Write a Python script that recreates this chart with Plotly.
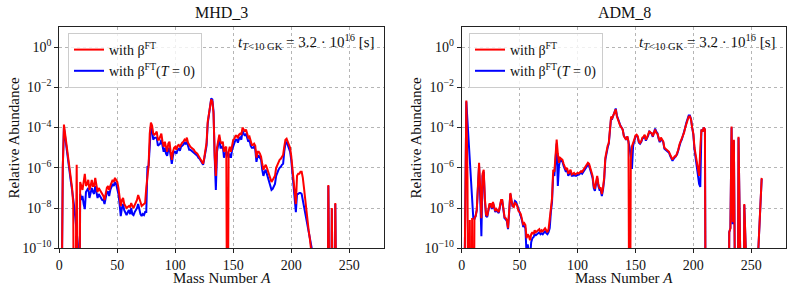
import plotly.graph_objects as go

# ---------------- data (log10 of relative abundance; -20 marks a zero abundance) ----------------
mhd_A = list(range(1, 221)) + list(range(230, 241))
mhd_red_log = [
    -20, -12, -6.0, -3.85, -4.3, -4.7, -5.2, -5.6, -6.0, -6.5,
    -7.0, -7.8, -20, -12, -5.85, -9.0, -20, -6.7, -6.9, -7.1,
    -6.7, -6.3, -6.9, -6.8, -6.6, -7.1, -6.9, -6.6, -6.9, -6.9,
    -6.5, -6.9, -7.2, -7.0, -7.1, -7.2, -7.3, -7.4, -7.6, -7.3,
    -7.0, -6.9, -7.1, -6.9, -6.7, -6.6, -6.7, -6.5, -6.6, -6.7,
    -7.0, -7.4, -7.9, -7.6, -7.5, -7.8, -7.9, -8.0, -7.95, -7.9,
    -7.95, -7.75, -7.9, -8.0, -7.85, -7.75, -7.6, -7.35, -7.6, -7.7,
    -7.9, -7.85, -7.8, -7.75, -7.0, -6.5, -5.9, -4.3, -3.75, -3.9,
    -4.3, -4.35, -4.3, -4.2, -4.6, -4.6, -4.45, -4.3, -4.7, -4.95,
    -4.7, -5.0, -5.2, -4.8, -4.7, -5.2, -5.6, -5.2, -5.0, -4.95,
    -5.1, -4.9, -4.86, -4.95, -4.8, -4.75, -4.7, -4.6, -4.65, -4.5,
    -4.75, -4.9, -4.95, -5.0, -5.05, -5.1, -5.2, -5.25, -5.3, -5.4,
    -5.5, -5.6, -5.7, -5.8, -5.5, -5.0, -4.75, -3.7, -3.3, -2.9,
    -2.6, -2.7, -3.3, -5.4, -6.4, -5.0, -4.6, -4.35, -4.7, -4.8,
    -4.7, -5.2, -5.0, -4.95, -20, -5.2, -4.95, -5.2, -4.9, -4.6,
    -4.55, -4.4, -4.4, -4.53, -4.35, -4.3, -4.36, -4.0, -4.1, -4.2,
    -4.1, -4.3, -4.5, -4.45, -4.7, -4.86, -4.86, -4.8, -4.9, -5.5,
    -5.2, -5.2, -5.3, -5.45, -5.8, -6.1, -5.95, -5.85, -6.0, -6.2,
    -6.4, -6.6, -6.7, -6.6, -6.5, -6.4, -6.0, -5.85, -5.75, -5.6,
    -5.55, -5.45, -5.36, -4.95, -4.6, -4.55, -4.7, -4.8, -5.0, -5.4,
    -6.0, -6.8, -7.3, -7.8, -6.4, -6.3, -6.3, -6.2, -6.2, -6.5,
    -7.0, -7.6, -8.1, -8.6, -9.1, -9.5, -10.0, -10.5, -20, -20,
    -20, -20, -6.85, -20, -20, -8.0, -20, -20, -7.75, -20, -20,
]
mhd_blue_log = [
    -20, -12, -6.0, -4.0, -4.5, -4.9, -5.4, -5.9, -6.3, -6.7,
    -7.1, -7.5, -8.0, -8.6, -9.2, -9.8, -20, -7.3, -7.6, -7.4,
    -7.8, -8.05, -7.2, -7.1, -7.0, -7.5, -7.3, -7.0, -7.2, -7.3,
    -6.9, -7.2, -7.5, -7.3, -7.4, -7.5, -7.6, -7.6, -7.8, -7.5,
    -7.2, -7.2, -7.4, -7.1, -6.9, -6.8, -6.9, -6.7, -6.8, -7.0,
    -7.3, -7.8, -8.4, -8.0, -7.8, -8.1, -8.2, -8.35, -8.2, -8.1,
    -8.3, -8.0, -8.3, -8.35, -8.2, -8.1, -8.0, -7.8, -8.1, -8.3,
    -8.4, -8.3, -8.35, -8.2, -8.2, -5.95, -5.9, -4.5, -3.95, -4.1,
    -4.6, -4.5, -4.5, -4.5, -4.9, -4.85, -4.8, -4.6, -5.0, -5.2,
    -5.0, -5.3, -5.4, -5.1, -5.0, -5.4, -5.8, -5.4, -5.2, -5.2,
    -5.3, -5.1, -5.05, -5.15, -4.95, -4.9, -4.85, -4.75, -4.8, -4.7,
    -4.95, -5.1, -5.1, -5.15, -5.2, -5.25, -5.3, -5.35, -5.4, -5.5,
    -5.55, -5.65, -5.75, -5.85, -5.55, -5.1, -4.9, -3.8, -3.3, -2.8,
    -2.55, -2.6, -3.2, -5.5, -7.1, -5.2, -4.8, -4.5, -5.0, -5.0,
    -4.9, -5.5, -5.3, -5.2, -5.3, -5.5, -5.3, -5.5, -5.1, -4.9,
    -4.75, -4.6, -4.6, -4.75, -4.55, -4.5, -4.6, -4.15, -4.3, -4.4,
    -4.3, -4.5, -4.7, -4.6, -4.9, -5.0, -5.0, -4.95, -5.1, -5.7,
    -5.4, -5.4, -5.5, -5.6, -6.1, -6.4, -6.2, -6.1, -6.3, -6.5,
    -6.8, -7.0, -7.1, -7.05, -6.95, -6.8, -6.4, -6.2, -6.1, -6.0,
    -5.95, -5.85, -5.8, -5.2, -4.8, -4.7, -4.85, -4.95, -5.2, -5.6,
    -6.3, -7.1, -7.9, -8.2, -7.3, -7.3, -7.25, -7.25, -7.3, -7.6,
    -8.0, -8.3, -8.6, -8.9, -9.2, -9.5, -9.8, -10.1, -10.4, -20,
    -20, -20, -6.9, -20, -20, -8.05, -20, -20, -7.8, -20, -20,
]

adm_A = list(range(1, 260))
adm_red_log = [
    -20, -20, -6.0, -2.65, -6.5, -20, -8.6, -20, -8.5, -20,
    -8.5, -8.4, -8.1, -6.6, -5.75, -7.0, -8.5, -6.3, -6.1, -7.5,
    -8.3, -8.4, -8.1, -7.8, -7.8, -8.0, -7.7, -7.9, -8.15, -8.05,
    -8.15, -8.2, -7.9, -7.6, -7.6, -8.2, -8.45, -8.5, -8.6, -9.0,
    -8.0, -7.25, -7.6, -7.9, -7.95, -7.75, -7.8, -7.9, -8.15, -8.2,
    -8.3, -8.55, -8.8, -8.75, -8.85, -9.5, -9.3, -9.4, -9.6, -9.3,
    -9.2, -9.3, -9.1, -9.2, -9.15, -9.1, -9.05, -9.2, -9.1, -9.15,
    -9.1, -9.0, -9.1, -9.2, -9.05, -8.6, -8.0, -7.5, -6.1, -6.2,
    -5.4, -4.6, -5.3, -5.75, -5.5, -5.55, -5.6, -5.8, -5.95, -6.1,
    -6.0, -6.3, -6.2, -6.1, -6.33, -6.3, -6.25, -6.33, -6.3, -6.25,
    -6.28, -6.2, -6.17, -6.2, -6.1, -6.05, -5.92, -5.8, -5.75, -5.8,
    -6.0, -6.2, -6.4, -6.9, -7.05, -6.7, -6.4, -6.8, -7.0, -7.0,
    -7.3, -7.0, -6.5, -5.5, -5.1, -4.9, -4.76, -3.8, -3.45, -3.52,
    -3.4, -3.25, -3.1, -3.45, -3.65, -3.8, -3.93, -4.0, -4.1, -4.43,
    -4.5, -4.6, -4.43, -4.68, -20, -5.6, -4.93, -4.8, -4.6, -4.4,
    -4.35, -4.43, -4.7, -4.76, -4.68, -4.5, -4.45, -4.35, -4.6, -4.5,
    -4.35, -4.18, -4.25, -4.26, -4.43, -4.2, -4.1, -4.26, -4.3, -4.5,
    -4.68, -4.5, -4.6, -4.68, -5.0, -5.05, -5.1, -5.17, -5.2, -5.35,
    -5.5, -5.59, -5.5, -5.42, -5.42, -5.3, -5.1, -4.84, -4.7, -4.6,
    -4.43, -4.25, -4.0, -3.77, -3.55, -3.45, -3.44, -3.6, -4.0, -4.3,
    -5.0, -5.4, -5.8, -6.1, -6.4, -5.0, -4.1, -4.2, -4.0, -4.1,
    -20, -20, -20, -20, -20, -20, -20, -20, -20, -20,
    -20, -20, -20, -20, -20, -20, -20, -20, -20, -20,
    -9.2, -9.0, -3.95, -8.7, -4.6, -8.3, -20, -20, -4.45, -20,
    -20, -20, -20, -7.8, -20, -20, -20, -20, -20, -20,
    -20, -20, -20, -20, -20, -10.2, -8.9, -7.7, -6.5,
]
adm_blue_log = [
    -20, -20, -6.0, -2.7, -3.7, -4.6, -5.6, -6.6, -7.6, -8.5,
    -8.55, -8.4, -8.1, -6.8, -5.9, -7.5, -9.4, -6.4, -6.2, -7.6,
    -8.4, -8.45, -8.15, -7.85, -7.85, -8.05, -7.75, -7.95, -8.2, -8.1,
    -8.2, -8.25, -7.95, -7.65, -7.65, -8.25, -8.5, -8.55, -8.65, -9.05,
    -8.05, -7.3, -7.65, -7.95, -7.85, -7.65, -7.7, -7.85, -8.1, -8.25,
    -8.4, -8.6, -8.9, -8.9, -9.0, -10.3, -9.8, -10.2, -10.5, -9.7,
    -9.5, -9.45, -9.3, -9.35, -9.3, -9.25, -9.2, -9.3, -9.25, -9.3,
    -9.25, -9.15, -9.25, -9.3, -9.2, -9.0, -8.2, -7.7, -6.3, -6.4,
    -5.6, -4.8, -6.9, -5.9, -5.6, -5.65, -5.7, -5.9, -6.05, -6.2,
    -6.1, -6.4, -6.3, -6.2, -6.4, -6.4, -6.35, -6.4, -6.4, -6.35,
    -6.35, -6.3, -6.25, -6.3, -6.2, -6.15, -6.0, -5.9, -5.85, -5.9,
    -6.1, -6.3, -6.5, -7.0, -7.15, -6.8, -6.5, -6.9, -7.1, -7.1,
    -7.4, -7.1, -6.6, -5.6, -5.2, -5.0, -4.8, -3.85, -3.5, -3.55,
    -3.4, -3.2, -3.05, -3.4, -3.6, -3.75, -3.9, -4.0, -4.1, -4.4,
    -4.5, -4.6, -4.45, -4.7, -5.0, -5.5, -6.05, -4.9, -4.65, -4.45,
    -4.4, -4.48, -4.75, -4.8, -4.72, -4.55, -4.5, -4.4, -4.65, -4.55,
    -4.4, -4.2, -4.28, -4.3, -4.46, -4.2, -4.05, -4.2, -4.28, -4.55,
    -4.72, -4.55, -4.65, -4.72, -5.05, -5.1, -5.15, -5.22, -5.25, -5.4,
    -5.55, -5.65, -5.55, -5.48, -5.45, -5.33, -5.12, -4.86, -4.72, -4.6,
    -4.43, -4.25, -4.0, -3.75, -3.52, -3.4, -3.4, -3.58, -4.0, -4.35,
    -5.1, -5.6, -6.0, -6.3, -6.8, -6.95, -4.1, -4.2, -4.0, -4.1,
    -20, -20, -20, -20, -20, -20, -20, -20, -20, -20,
    -20, -20, -20, -20, -20, -20, -20, -20, -20, -20,
    -9.2, -9.0, -4.0, -8.8, -4.65, -8.4, -20, -20, -4.5, -20,
    -20, -20, -20, -7.85, -20, -20, -20, -20, -20, -20,
    -20, -20, -20, -20, -20, -10.2, -8.9, -7.7, -6.55,
]

panel_titles = ["MHD_3", "ADM_8"]
series_names = ["with β<sup>FT</sup>", "with β<sup>FT</sup>(<i>T</i> = 0)"]
time_label = "<i>t</i><sub><i>T</i>&lt;10 GK</sub> = 3.2 · 10<sup>16</sup> [s]"
x_ticks = [0, 50, 100, 150, 200, 250]
y_tick_exps = [0, -2, -4, -6, -8, -10]
y_tick_text = ["10<sup>0</sup>", "10<sup>−2</sup>", "10<sup>−4</sup>",
               "10<sup>−6</sup>", "10<sup>−8</sup>", "10<sup>−10</sup>"]

# ---------------- figure ----------------
W, H = 793, 290
FONT = "Liberation Serif"
TXT = "#111"


def px(x):
    return x / W


def py(y):
    return 1 - y / H


def to_lin(vals):
    return [10.0 ** v for v in vals]


fig = go.Figure()
panels = [
    (mhd_A, mhd_red_log, mhd_blue_log, "x", "y", "legend"),
    (adm_A, adm_red_log, adm_blue_log, "x2", "y2", "legend2"),
]
for A, red, blue, xa, ya, lg in panels:
    fig.add_trace(go.Scatter(x=A, y=to_lin(blue), mode="lines", name=series_names[1],
                             line=dict(color="#0000ff", width=2), xaxis=xa, yaxis=ya,
                             legend=lg, legendrank=2))
    fig.add_trace(go.Scatter(x=A, y=to_lin(red), mode="lines", name=series_names[0],
                             line=dict(color="#ff0000", width=2), xaxis=xa, yaxis=ya,
                             legend=lg, legendrank=1))

common_x = dict(range=[0, 280], tickvals=x_ticks, showline=True, mirror=True,
                linecolor="#222", linewidth=1, ticks="outside", ticklen=4,
                tickcolor="#222", showgrid=True, gridcolor="#b5b5b5", griddash="dot",
                gridwidth=0.8, zeroline=False, automargin=False,
                tickfont=dict(family=FONT, size=14, color=TXT))
common_y = dict(type="log", range=[-10, 1], tickvals=[10.0 ** e for e in y_tick_exps],
                ticktext=y_tick_text, showline=True, mirror=True, linecolor="#222",
                linewidth=1, ticks="outside", ticklen=4, tickcolor="#222", showgrid=True,
                gridcolor="#b5b5b5", griddash="dot", gridwidth=0.8, zeroline=False,
                automargin=False, tickfont=dict(family=FONT, size=14, color=TXT),
                domain=[py(248.3), py(27)])

leg_common = dict(xanchor="left", yanchor="top", bordercolor="#cccccc", borderwidth=1,
                  bgcolor="rgba(255,255,255,0.8)", font=dict(family=FONT, size=14, color=TXT),
                  traceorder="normal")

fig.update_layout(
    width=W, height=H, margin=dict(l=0, r=0, t=0, b=0),
    paper_bgcolor="white", plot_bgcolor="white",
    font=dict(family=FONT, size=14, color=TXT),
    xaxis=dict(common_x, domain=[px(59.3), px(384)], anchor="y"),
    yaxis=dict(common_y, anchor="x"),
    xaxis2=dict(common_x, domain=[px(461.7), px(786)], anchor="y2"),
    yaxis2=dict(common_y, anchor="x2"),
    legend=dict(leg_common, x=px(68), y=py(33)),
    legend2=dict(leg_common, x=px(469), y=py(33)),
)

ann = []
for i, (cx, lx, rx) in enumerate([(221.6, 13, 377), (624, 415, 778)]):
    ann.append(dict(text=panel_titles[i], x=px(cx), y=py(13), xref="paper", yref="paper",
                    showarrow=False, font=dict(family=FONT, size=16, color=TXT),
                    xanchor="center", yanchor="middle"))
    ann.append(dict(text="Mass Number <i>A</i>", x=px(cx), y=py(278), xref="paper",
                    yref="paper", showarrow=False, font=dict(family=FONT, size=15, color=TXT),
                    xanchor="center", yanchor="middle"))
    ann.append(dict(text="Relative Abundance", x=px(lx), y=py(137.5), xref="paper",
                    yref="paper", showarrow=False, textangle=-90,
                    font=dict(family=FONT, size=15, color=TXT),
                    xanchor="center", yanchor="middle"))
    ann.append(dict(text=time_label, x=px(rx), y=py(42), xref="paper", yref="paper",
                    showarrow=False, font=dict(family=FONT, size=15, color=TXT),
                    xanchor="right", yanchor="middle"))
fig.update_layout(annotations=ann)

fig.write_html("out.html", config={"displayModeBar": False},
               post_script="document.body.style.margin='0';document.body.style.overflow='hidden';")
